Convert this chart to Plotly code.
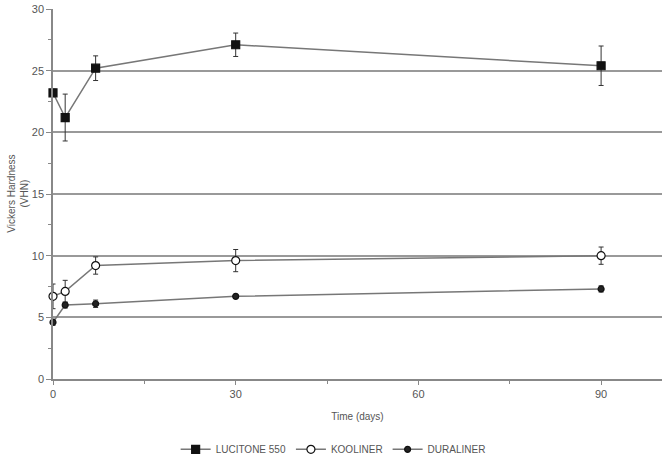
import plotly.graph_objects as go

days = [0, 2, 7, 30, 90]
lucitone = [23.2, 21.2, 25.2, 27.1, 25.4]
lucitone_err = [0.3, 1.9, 1.0, 0.95, 1.6]
kooliner = [6.7, 7.1, 9.2, 9.6, 10.0]
kooliner_err = [1.0, 0.9, 0.7, 0.9, 0.7]
duraliner = [4.6, 6.0, 6.1, 6.7, 7.3]
duraliner_err = [0.25, 0.25, 0.3, 0.15, 0.25]

x_ticks = [0, 30, 60, 90]
y_ticks = [0, 5, 10, 15, 20, 25, 30]

fig = go.Figure()

def add(name, y, err, symbol, fill, size):
    fig.add_trace(go.Scatter(
        x=days, y=y, name=name, mode="lines+markers", cliponaxis=False,
        line=dict(color="#777777", width=1.5),
        marker=dict(symbol=symbol, size=size, color=fill,
                    line=dict(color="#111111", width=1.2)),
        error_y=dict(type="data", array=err, visible=True,
                     color="#333333", thickness=1, width=2.5),
    ))

add("LUCITONE 550", lucitone, lucitone_err, "square", "#111111", 8)
add("KOOLINER", kooliner, kooliner_err, "circle", "white", 8)
add("DURALINER", duraliner, duraliner_err, "circle", "#222222", 6)

tick_font = dict(size=11, color="#555555")

fig.update_layout(
    width=662, height=457,
    margin=dict(l=53, r=0, t=9, b=78, autoexpand=False),
    paper_bgcolor="white", plot_bgcolor="white",
    font=dict(family="Liberation Sans, Arial, sans-serif", size=11, color="#555555"),
    showlegend=True,
    legend=dict(orientation="h", x=0.46, xanchor="center",
                y=-0.151, yanchor="top", yref="paper",
                font=dict(size=10, color="#555555"),
                tracegroupgap=0),
    xaxis=dict(range=[0, 100], tickvals=x_ticks, showgrid=False, zeroline=False,
               showline=True, linecolor="#888888", linewidth=2, automargin=False,
               ticks="outside", ticklen=4, tickcolor="#888888", tickfont=tick_font,
               minor=dict(tickvals=[15, 45, 75], ticks="outside", ticklen=3, tickcolor="#888888"),
               title=dict(text="Time (days)", standoff=14, font=dict(size=10, color="#555555")),
               fixedrange=True),
    yaxis=dict(range=[0, 30], tickvals=y_ticks, showgrid=True, gridcolor="#999999", gridwidth=2,
               zeroline=False, showline=True, linecolor="#888888", linewidth=1.5, automargin=False,
               ticks="outside", ticklen=5, tickcolor="#888888", tickfont=tick_font,
               minor=dict(tickvals=[2.5, 7.5, 12.5, 17.5, 22.5, 27.5], ticks="outside", ticklen=3, tickcolor="#888888"),
               fixedrange=True),
    annotations=[dict(text="Vickers Hardness<br>(VHN)", textangle=-90, showarrow=False,
                      xref="paper", yref="paper", x=-0.058, y=0.5,
                      xanchor="center", yanchor="middle",
                      font=dict(size=10, color="#555555"))],
)

fig.write_html("out.html")
